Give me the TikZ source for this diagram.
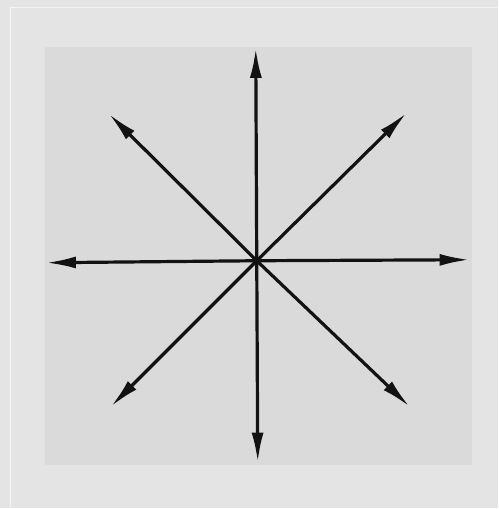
\documentclass[tikz,border=0pt]{standalone}
\usepackage{tikz}
\usetikzlibrary{arrows.meta}

\definecolor{paper}{RGB}{228,228,228}
\definecolor{plate}{RGB}{218,218,218}
\definecolor{ink}{RGB}{18,18,18}

\begin{document}
\begin{tikzpicture}[x=1pt,y=1pt]
\fill[paper] (0,0) rectangle (498,509);
\draw[white!60!paper,line width=1pt] (11,0) -- (11,501) -- (498,501);
\fill[plate] (45,44) rectangle (472,462);
\coordinate (o) at (257,248);
\coordinate (n) at (256,461);
\coordinate (s) at (258,46);
\coordinate (w) at (46,246);
\coordinate (e) at (470,249);
\coordinate (nw) at (109,395);
\coordinate (ne) at (407,396);
\coordinate (sw) at (111,102);
\coordinate (se) at (410,102);
\foreach \d in {n,s,w,e,nw,ne,sw,se}
  \draw[ink,line width=3.2pt,-{Latex[length=30pt,width=12pt]}] (o) -- (\d);
\fill[ink] (o) circle (4pt);
\end{tikzpicture}
\end{document}
